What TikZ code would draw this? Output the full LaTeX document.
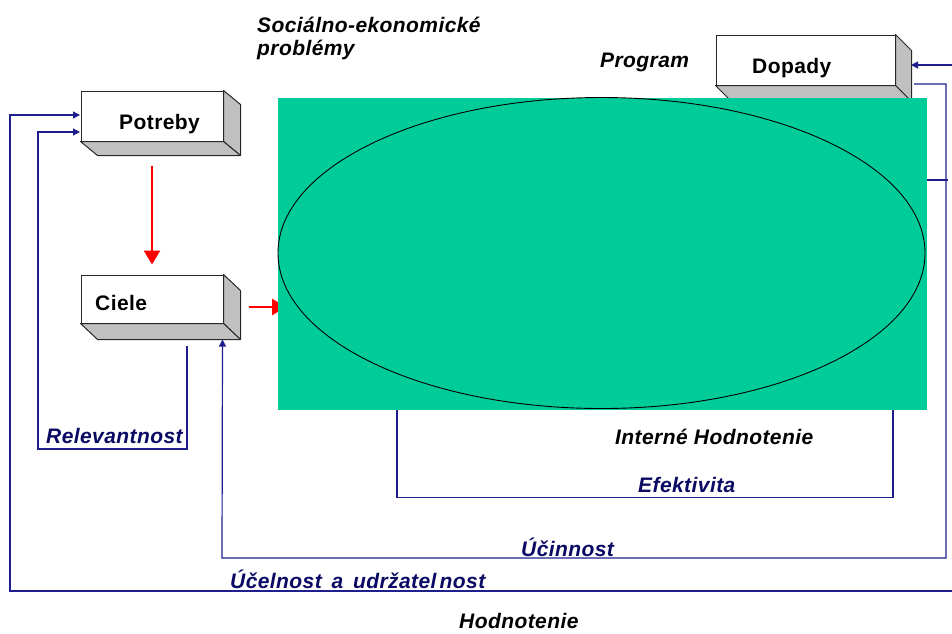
\documentclass[tikz,border=0pt]{standalone}
\usepackage{fontspec}
\setmainfont{Liberation Sans}[LetterSpace=2]
\usetikzlibrary{arrows.meta,calc,shapes.geometric}
\definecolor{progreen}{RGB}{0,204,153}
\definecolor{boxgray}{RGB}{192,192,192}
\definecolor{edgegray}{RGB}{40,40,40}
\definecolor{lineblue}{RGB}{30,30,140}
\definecolor{textnavy}{RGB}{10,10,100}
\definecolor{arrred}{RGB}{255,0,0}
\tikzset{
  front/.style={draw=edgegray, fill=white, line width=1pt, inner sep=0pt},
  depthface/.style={draw=edgegray, fill=boxgray, line width=1pt, line join=round},
  redarr/.style={draw=arrred, line width=2.8pt, -{Triangle[length=14pt,width=16pt]}},
  bluearr/.style={draw=lineblue, line width=1.2pt, -{Triangle[length=7pt,width=7pt]}},
  bluebi/.style={draw=lineblue, line width=1.2pt, {Triangle[length=7pt,width=7pt]}-{Triangle[length=7pt,width=7pt]}},
  blueline/.style={draw=lineblue, line width=1.2pt},
  boxlabel/.style={font=\fontsize{21}{23}\selectfont\bfseries, anchor=base west, inner sep=0pt, text=black},
  blklabel/.style={font=\fontsize{21}{23}\selectfont\bfseries\itshape, anchor=base west, inner sep=0pt, text=black},
  navylabel/.style={font=\fontsize{21}{23}\selectfont\bfseries\itshape, anchor=base west, inner sep=0pt, text=textnavy},
}
\newcommand{\depthbox}[3]{%
  \path[depthface] (#1.north east) -- ++(#2,#3) -- ($(#1.south east)+(#2,#3)$) -- (#1.south east) -- cycle;
  \path[depthface] (#1.south west) -- (#1.south east) -- ++(#2,#3) -- ($(#1.south west)+(#2,#3)$) -- cycle;
}
\begin{document}
\begin{tikzpicture}[x=1pt,y=-1pt]
\useasboundingbox (0,0) rectangle (952,633);
\clip (0,0) rectangle (952,633);

% boxes
\node[front, minimum width=142pt, minimum height=50pt] (potreby) at (152,116) {};
\depthbox{potreby}{17}{14}
\node[boxlabel] (potrebyT) at (119,129) {Potreby};

\node[front, minimum width=142pt, minimum height=48pt] (ciele) at (152,299) {};
\depthbox{ciele}{17}{16}
\node[boxlabel] (cieleT) at (95,310) {Ciele};

\node[front, minimum width=179pt, minimum height=50pt] (dopady) at (805.5,60) {};
\depthbox{dopady}{16}{16}
\node[boxlabel] (dopadyT) at (752,73) {Dopady};

% red arrow into program (behind the green area)
\coordinate (cstart) at ($(ciele.east)+(25,8)$);
\draw[redarr] (cstart) -- ([xshift=8pt]cstart -| 278,0);

% program area
\node[fill=progreen, minimum width=649pt, minimum height=312pt, inner sep=0pt, anchor=north west] (prog) at (278,98) {};
\node[ellipse, draw=black, line width=0.9pt, minimum width=647pt, minimum height=311pt, inner sep=0pt] (ell) at (601.5,253) {};

% red arrow Potreby -> Ciele
\draw[redarr] ([yshift=-24pt]potreby.south) -- ([yshift=10pt]ciele.north);

% blue connectors
\coordinate (potIn1) at (80,115);
\coordinate (potIn2) at (80,132);
\coordinate (dopIn) at (911,65);
\coordinate (dopOut) at (914,84);
\coordinate (cieIn) at ($(ciele.south east)+(-1,16)$);
\coordinate (cieOut) at ($(ciele.south)+(35,22)$);

\draw[bluebi] (potIn1) -- (10,115) -- (10,591) -- (970,591) -- (970,65) -- (dopIn);
\draw[bluearr] (dopOut) -- (946,84) -- (946,558) -- (222,558) -- (cieIn);
\draw[blueline] (prog.east |- 0,180) -- (948,180);
\draw[bluearr] (cieOut) -- (cieOut |- 0,449) -- (38,449) -- (38,132) -- (potIn2);
\draw[blueline] ($(prog.south west)+(119,0)$) -- ++(0,87) -| ($(prog.south west)+(615,0)$);

% texts
\node[blklabel, align=left] (soc) at (257,55) {Sociálno-ekonomické\\problémy};
\node[blklabel] (program) at (600,67) {Program};
\node[navylabel] (relev) at (46,443) {Relevantnost};
\node[blklabel] (intern) at (615,444) {Interné Hodnotenie};
\node[navylabel] (efekt) at (638,492) {Efektivita};
\node[navylabel] (ucinn) at (521,556) {Účinnost};
\node[navylabel] (ucel) at (230,588) {Účelnost\ \,a\ \,udržatel\kern-3pt\ nost};
\node[blklabel] (hodn) at (459,628) {Hodnotenie};
\end{tikzpicture}
\end{document}
